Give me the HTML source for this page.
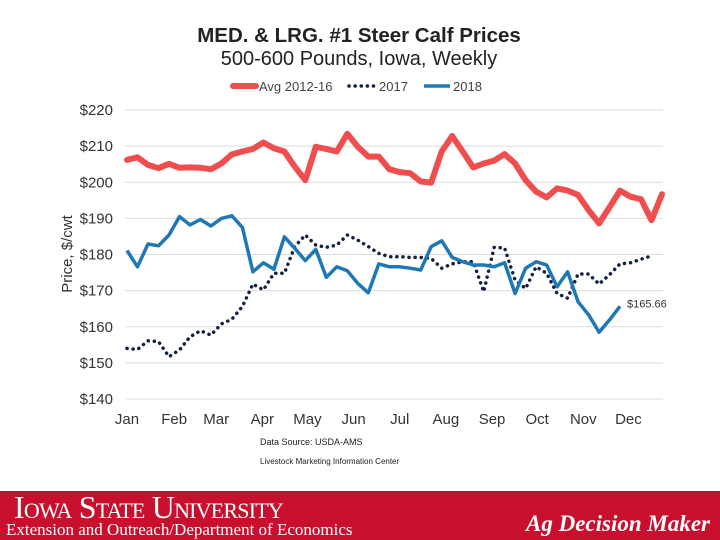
<!DOCTYPE html>
<html><head><meta charset="utf-8"><style>
html,body{margin:0;padding:0;background:#fff;}
body{width:720px;height:540px;position:relative;overflow:hidden;font-family:"Liberation Sans",sans-serif;}
.footer{position:absolute;left:0;top:491px;width:720px;height:49px;background:#c8102e;}
</style></head><body>
<svg id="chart" width="720" height="491" style="position:absolute;left:0;top:0" xmlns="http://www.w3.org/2000/svg">
<text x="359" y="42" text-anchor="middle" font-size="20.5" font-weight="bold" fill="#222">MED. &amp; LRG. #1 Steer Calf Prices</text>
<text x="359" y="65" text-anchor="middle" font-size="20" fill="#222">500-600 Pounds, Iowa, Weekly</text>
<g>
<line x1="233" y1="86" x2="256" y2="86" stroke="#f04e4e" stroke-width="6" stroke-linecap="round"/>
<text x="259" y="91" font-size="13" fill="#444">Avg 2012-16</text>
<line x1="349" y1="86" x2="375" y2="86" stroke="#13213f" stroke-width="3.5" stroke-dasharray="0.1 6" stroke-linecap="round"/>
<text x="379" y="91" font-size="13" fill="#444">2017</text>
<line x1="424" y1="86" x2="450" y2="86" stroke="#1f77b4" stroke-width="3.5"/>
<text x="453" y="91" font-size="13" fill="#444">2018</text>
</g>
<text transform="translate(72,254) rotate(-90)" text-anchor="middle" font-size="15" fill="#333">Price, $/cwt</text>
<g id="grid"></g><g id="yticks"></g><g id="xticks"></g><g id="series"></g>
<text id="lastlabel" font-size="11" fill="#333">$165.66</text>
<text x="260" y="445" font-size="9" fill="#222">Data Source:  USDA-AMS</text>
<text x="260" y="464" font-size="8" fill="#222">Livestock Marketing Information Center</text>
</svg>
<div class="footer">
<div style="position:absolute;left:14px;top:0px;color:#fff;font-family:'Liberation Serif',serif;font-size:32px;line-height:32px;font-variant:small-caps;letter-spacing:-0.8px;white-space:nowrap;">Iowa State University</div>
<div style="position:absolute;left:6px;top:29px;color:#fff;font-family:'Liberation Serif',serif;font-size:17px;white-space:nowrap;">Extension and Outreach/Department of Economics</div>
<div style="position:absolute;right:10px;top:20px;color:#fff;font-family:'Liberation Serif',serif;font-size:23px;font-style:italic;font-weight:bold;">Ag Decision Maker</div>
</div>
<script>
const yTicks=[140,150,160,170,180,190,200,210,220];
const months=["Jan","Feb","Mar","Apr","May","Jun","Jul","Aug","Sep","Oct","Nov","Dec"];
const monthWeeks=[0,4.5,8.5,12.9,17.2,21.6,26,30.4,34.8,39.1,43.5,47.8];
const avg2012_16=[206.2,206.9,204.8,203.9,205.1,204,204.1,204,203.6,205.2,207.7,208.5,209.2,211,209.4,208.5,204.3,200.6,209.8,209.2,208.5,213.4,209.8,207.1,207.1,203.6,202.8,202.5,200.2,199.9,208.5,212.8,208.5,204.1,205.2,206,207.8,205.2,200.6,197.4,195.8,198.3,197.7,196.5,192.3,188.6,193.1,197.7,196,195.3,189.5,196.7];
const y2017=[154,153.7,156.1,155.9,151.7,153.6,157.2,158.9,157.7,160.8,162.1,165.6,171.8,170.2,174.8,174.8,182.2,185.4,182.6,182,182.6,185.4,184,182.2,180.3,179.4,179.4,179.2,179.2,178.9,176.2,177.4,178,178,169.7,182,181.8,172.9,170.6,176.6,174.8,169.2,167.9,174.6,174.6,171.8,174.4,177.4,177.7,178.7,179.6];
const y2018=[181.1,176.6,182.9,182.4,185.4,190.5,188.2,189.7,187.9,190,190.7,187.5,175.2,177.7,175.9,184.9,181.7,178.3,181.4,173.7,176.6,175.5,172,169.4,177.4,176.6,176.6,176.2,175.7,182.2,183.8,179.2,178,177.1,177.1,176.6,177.7,169.2,176.2,178,177.1,171.1,175.2,166.9,163.3,158.5,161.9,165.66];
const NS="http://www.w3.org/2000/svg";
const X=w=>127+w*(535/51);
const Y=v=>399-(v-140)*3.6125;
function mk(tag,attrs,parent){const e=document.createElementNS(NS,tag);for(const k in attrs)e.setAttribute(k,attrs[k]);document.getElementById(parent).appendChild(e);return e;}
yTicks.forEach(t=>{
  const g=mk('line',{x1:125,x2:663,y1:Y(t),y2:Y(t),stroke:'#dcdcdc','stroke-width':1},'grid');
  
  
  const l=mk('text',{x:113,y:Y(t)+5,'text-anchor':'end','font-size':15,fill:'#333'},'yticks');
  l.textContent='$'+t;
  
  
});
months.forEach((m,i)=>{
  const l=mk('text',{x:X(monthWeeks[i]),y:424,'text-anchor':'middle','font-size':15,fill:'#333'},'xticks');
  l.textContent=m;
  
  
});
function pts(a){return a.map((v,i)=>X(i).toFixed(1)+','+Y(v).toFixed(1)).join(' ');}
const pa=mk('polyline',{points:pts(avg2012_16),fill:'none',stroke:'#f04e4e','stroke-width':6,'stroke-linejoin':'round','stroke-linecap':'round'},'series');


const p7=mk('polyline',{points:pts(y2017),fill:'none',stroke:'#13213f','stroke-width':3.5,'stroke-dasharray':'0.1 6','stroke-linecap':'round'},'series');


const p8=mk('polyline',{points:pts(y2018),fill:'none',stroke:'#1f77b4','stroke-width':3.5,'stroke-linejoin':'round'},'series');


const ll=document.getElementById('lastlabel');
const li=y2018.length-1;
ll.setAttribute('x',X(li)+7);ll.setAttribute('y',Y(y2018[li])+1);
ll.textContent='$'+y2018[li].toFixed(2);
</script>
</body></html>
